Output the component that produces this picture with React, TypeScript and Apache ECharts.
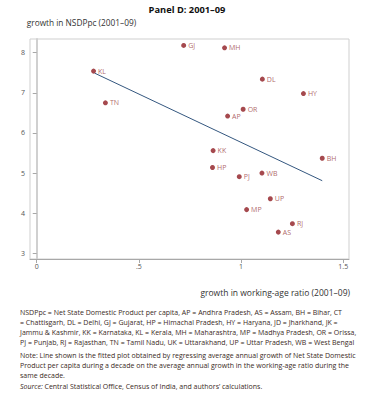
import React, { useEffect, useRef } from "react";
import * as echarts from "echarts";

const states = ["GJ", "MH", "KL", "DL", "HY", "TN", "OR", "AP", "KK", "BH", "HP", "PJ", "WB", "UP", "MP", "RJ", "AS"];
const workingAgeGrowth = [0.719, 0.919, 0.278, 1.104, 1.305, 0.336, 1.01, 0.934, 0.863, 1.397, 0.86, 0.991, 1.102, 1.143, 1.027, 1.251, 1.182];
const nsdpGrowth = [8.18, 8.12, 7.54, 7.34, 6.98, 6.75, 6.59, 6.42, 5.56, 5.37, 5.14, 4.91, 5.0, 4.36, 4.09, 3.74, 3.53];
const fitX = [0.283, 1.397];
const fitY = [7.49, 4.81];
const xTicks = [0, 0.5, 1, 1.5];
const yTicks = [3, 4, 5, 6, 7, 8];

const titleText = "Panel D: 2001–09";
const yName = "growth in NSDPpc (2001–09)";
const xName = "growth in working-age ratio (2001–09)";
const abbrevLines = [
  "NSDPpc = Net State Domestic Product per capita, AP = Andhra Pradesh, AS = Assam, BH = Bihar, CT",
  "= Chattisgarh, DL = Delhi, GJ = Gujarat, HP = Himachal Pradesh, HY = Haryana, JD = Jharkhand, JK =",
  "Jammu & Kashmir, KK = Karnataka, KL = Kerala, MH = Maharashtra, MP = Madhya Pradesh, OR = Orissa,",
  "PJ = Punjab, RJ = Rajasthan, TN = Tamil Nadu, UK = Uttarakhand, UP = Uttar Pradesh, WB = West Bengal",
];
const noteLines = [
  "Note: Line shown is the fitted plot obtained by regressing average annual growth of Net State Domestic",
  "Product per capita during a decade on the average annual growth in the working-age ratio during the",
  "same decade.",
];
const sourceText = "Central Statistical Office, Census of India, and authors’ calculations.";

const FONT = "'Open Sans', Lato, sans-serif";
const NOTE_SIZE = 7;
const NOTE_COLOR = "#3a2a24";

export default function App() {
  const ref = useRef<HTMLDivElement>(null);
  useEffect(() => {
    if (!ref.current) return;
    const chart = echarts.init(ref.current, undefined, { renderer: "svg" });
    const points = states.map((s, i) => [workingAgeGrowth[i], nsdpGrowth[i], s]);
    const fitLine = fitX.map((x, i) => [x, fitY[i]]);
    chart.setOption({
      animation: false,
      backgroundColor: "#ffffff",
      textStyle: { fontFamily: FONT },
      title: {
        text: titleText,
        left: "center",
        top: 5,
        padding: 0,
        textStyle: { fontSize: 9.3, fontWeight: "bold", color: "#111", fontFamily: FONT },
      },
      grid: {
        left: 30,
        right: 25,
        top: 39,
        bottom: 141,
        show: true,
        borderColor: "#cfcfcf",
        borderWidth: 1,
        backgroundColor: "transparent",
      },
      xAxis: {
        type: "value",
        min: -0.033,
        max: 1.528,
        splitLine: { show: false },
        axisLine: { show: true, lineStyle: { color: "#a8a8a8", width: 1 } },
        axisTick: { show: true, length: 4, customValues: xTicks, lineStyle: { color: "#a8a8a8" } },
        axisLabel: {
          customValues: xTicks,
          margin: 4,
          fontSize: 7,
          color: "#555",
          fontFamily: FONT,
          formatter: (v: number) => (v === 0 ? "0" : v === 1 ? "1" : String(v).replace(/^0/, "")),
        },
      },
      yAxis: {
        type: "value",
        min: 2.86,
        max: 8.34,
        name: yName,
        nameLocation: "end",
        nameGap: 13,
        nameTextStyle: { align: "left", fontSize: 8.3, color: "#333", padding: [0, 0, 0, -10], fontFamily: FONT },
        splitLine: { show: false },
        axisLine: { show: true, lineStyle: { color: "#d0d0d0", width: 2 } },
        axisTick: { show: true, length: 4, customValues: yTicks, lineStyle: { color: "#a8a8a8" } },
        axisLabel: { customValues: yTicks, margin: 5, fontSize: 7, color: "#555", fontFamily: FONT },
      },
      series: [
        {
          type: "line",
          data: fitLine,
          showSymbol: false,
          symbol: "none",
          lineStyle: { color: "#34577f", width: 1 },
          z: 2,
        },
        {
          type: "scatter",
          data: points,
          symbolSize: 5,
          itemStyle: { color: "#8e1b22" },
          label: {
            show: true,
            position: "right",
            distance: 2,
            fontSize: 7,
            color: "#9a4040",
            fontFamily: FONT,
            formatter: (p: any) => p.data[2],
          },
          z: 3,
        },
      ],
      graphic: [
        {
          type: "text",
          right: 24,
          top: 288,
          style: { text: xName, fontSize: 8.5, fill: "#333", fontFamily: FONT },
        },
        {
          type: "text",
          left: 20,
          top: 307.5,
          style: { text: abbrevLines.join("\n"), fontSize: NOTE_SIZE, lineHeight: 10, fill: NOTE_COLOR, fontFamily: FONT },
        },
        {
          type: "text",
          left: 20,
          top: 350.5,
          style: { text: noteLines.join("\n"), fontSize: NOTE_SIZE, lineHeight: 10, fill: NOTE_COLOR, fontFamily: FONT },
        },
        {
          type: "text",
          left: 20,
          top: 381,
          style: {
            text: "{i|Source:} " + sourceText,
            fontSize: NOTE_SIZE,
            lineHeight: 10,
            fill: NOTE_COLOR,
            fontFamily: FONT,
            rich: { i: { fontStyle: "italic", fontSize: NOTE_SIZE, fill: NOTE_COLOR, fontFamily: FONT } },
          },
        },
      ],
    });
    return () => chart.dispose();
  }, []);
  return <div ref={ref} style={{ position: "absolute", left: 0, top: 0, width: 374, height: 400 }} />;
}
